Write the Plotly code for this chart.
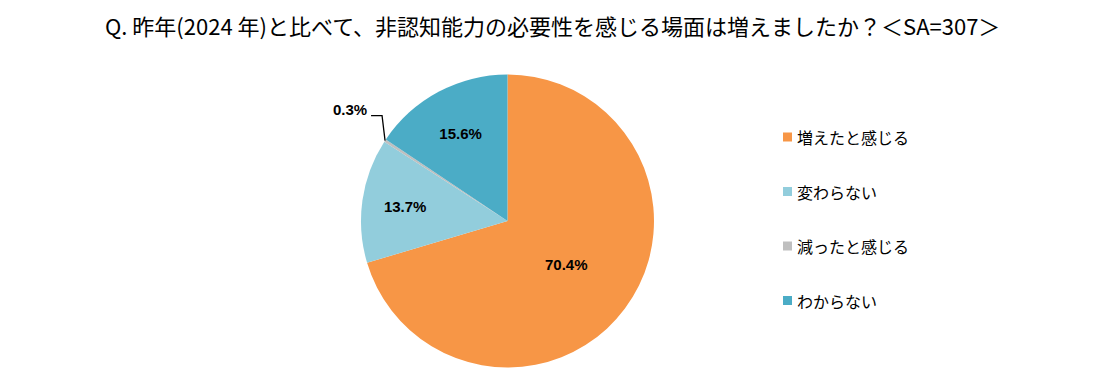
import math
import plotly.graph_objects as go

# ---- data ----
labels = ["増えたと感じる", "変わらない", "減ったと感じる", "わからない"]
values = [70.4, 13.7, 0.3, 15.6]
colors = ["#F79646", "#92CDDC", "#BFBFBF", "#4BACC6"]
title_text = "Q. 昨年(2024 年)と比べて、非認知能力の必要性を感じる場面は増えましたか？＜SA=307＞"

OFF = 8                      # default page body margin
W, H = 1117 - 2 * OFF, 390 - 2 * OFF
# pie centre / radius in page pixels
cx, cy, R = 507.5, 221, 146.5

px = lambda x: (x - OFF) / W
py = lambda y: 1 - (y - OFF) / H

outside_idx = 2  # small slice labelled outside
pct_font = dict(family="Liberation Sans, Arial", size=15, color="#000000")

texts = [f"<b>{v:.1f}%</b>" if i != outside_idx else "" for i, v in enumerate(values)]

fig = go.Figure()
fig.add_trace(go.Pie(
    labels=labels, values=values, sort=False, direction="clockwise", rotation=0,
    marker=dict(colors=colors, line=dict(width=0)),
    text=texts, textinfo="text", textposition="inside",
    insidetextorientation="horizontal",
    textfont=pct_font,
    showlegend=False, hoverinfo="label+percent",
    domain=dict(x=[px(cx - R), px(cx + R)], y=[py(cy + R), py(cy - R)]),
))

shapes = []
annotations = []

# leader line + label for the small slice (computed from the data)
total = sum(values)
cum = sum(values[:outside_idx]) + values[outside_idx] / 2
ang = 2 * math.pi * cum / total
ex = cx + R * math.sin(ang)
ey = cy - R * math.cos(ang)
x1, y1 = ex - 3, ey - 25
x2 = x1 - 11
shapes.append(dict(type="path", xref="paper", yref="paper",
                   path=f"M {px(ex)} {py(ey)} L {px(x1)} {py(y1)} L {px(x2)} {py(y1)}",
                   line=dict(color="#000000", width=1.3)))
annotations.append(dict(x=px(x2 - 2), y=py(y1 - 6), xref="paper", yref="paper",
                        text=f"<b>{values[outside_idx]:.1f}%</b>", showarrow=False,
                        xanchor="right", yanchor="middle", font=pct_font))

# custom legend
leg_x = 783
leg_y0 = 137
leg_dy = 54.5
for i, (lab, col) in enumerate(zip(labels, colors)):
    yy = leg_y0 + i * leg_dy
    shapes.append(dict(type="rect", xref="paper", yref="paper",
                       x0=px(leg_x), x1=px(leg_x + 9), y0=py(yy + 4.5), y1=py(yy - 4.5),
                       fillcolor=col, line=dict(width=0)))
    annotations.append(dict(x=px(leg_x + 12), y=py(yy), xref="paper", yref="paper",
                            text=lab, showarrow=False, xanchor="left", yanchor="middle",
                            font=dict(family="Noto Sans CJK JP", size=16, color="#000000")))

# title
annotations.append(dict(x=px(552), y=1.0, xref="paper", yref="paper",
                        text=title_text, showarrow=False, xanchor="center", yanchor="top",
                        borderpad=0,
                        font=dict(family="Noto Sans CJK JP", size=22, color="#000000")))

fig.update_layout(
    width=W, height=H,
    margin=dict(l=0, r=0, t=0, b=0),
    paper_bgcolor="#FFFFFF", plot_bgcolor="#FFFFFF",
    shapes=shapes, annotations=annotations,
)

fig.write_html("out.html")
